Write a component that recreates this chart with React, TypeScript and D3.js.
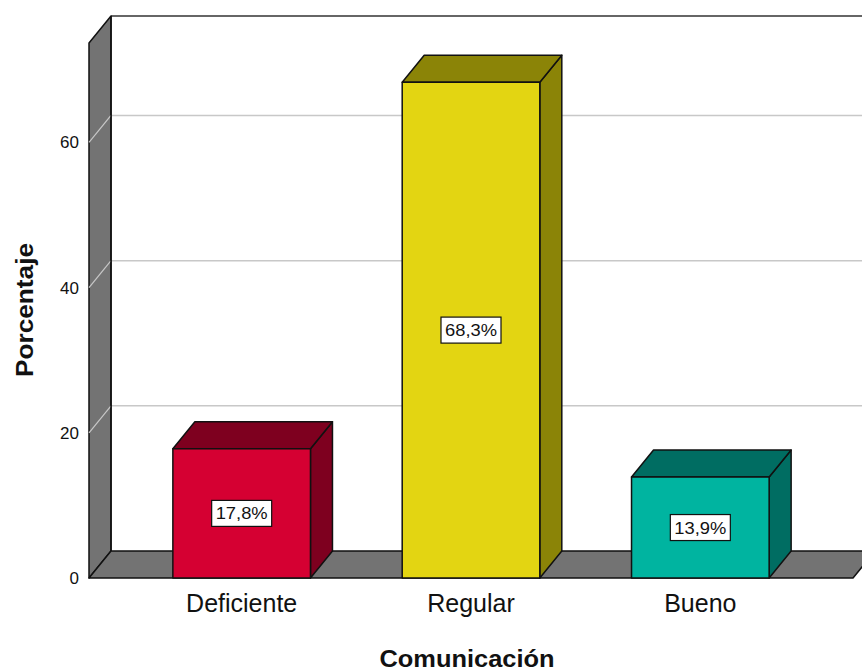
import React from "react";
import * as d3 from "d3";

const categories = ["Deficiente", "Regular", "Bueno"];
const values = [17.8, 68.3, 13.9];
const valueLabels = ["17,8%", "68,3%", "13,9%"];
const frontColors = ["#D50032", "#E3D512", "#00B4A0"];
const darkColors = ["#7E001F", "#8B8407", "#006D62"];
const yTicks = [0, 20, 40, 60];

const W = 862;
const H = 671;
const DX = 22;
const DY = -27;
const FONT = "'Liberation Sans', Arial, sans-serif";

export default function App() {
  const y = d3.scaleLinear().domain([0, 73.7]).range([578, 43]);
  const x = d3
    .scaleBand<string>()
    .domain(categories)
    .range([127, 815])
    .paddingInner(0.4)
    .paddingOuter(0.2);

  const x0 = 89;
  const xRight = 853;
  const y0 = y(0);
  const yTop = y(73.7);

  const pts = (p: number[][]) => p.map((q) => q.join(",")).join(" ");

  return (
    <svg
      width={W}
      height={H}
      style={{ position: "absolute", left: 0, top: 0, background: "#fff" }}
      fontFamily={FONT}
    >
      <rect x={0} y={0} width={W} height={H} fill="#fff" />
      {yTicks
        .filter((t) => t > 0)
        .map((t) => (
          <line
            key={"g" + t}
            x1={x0 + DX}
            x2={W + 20}
            y1={y(t) + DY}
            y2={y(t) + DY}
            stroke="#C8C8C8"
            strokeWidth={1.5}
          />
        ))}
      <line x1={x0 + DX} x2={W + 20} y1={yTop + DY} y2={yTop + DY} stroke="#333" strokeWidth={1.5} />
      <polygon
        points={pts([
          [x0, yTop],
          [x0 + DX, yTop + DY],
          [x0 + DX, y0 + DY],
          [x0, y0],
        ])}
        fill="#737373"
        stroke="#111"
        strokeWidth={1.5}
        strokeLinejoin="round"
      />
      {yTicks
        .filter((t) => t > 0)
        .map((t) => (
          <line
            key={"lw" + t}
            x1={x0}
            y1={y(t)}
            x2={x0 + DX}
            y2={y(t) + DY}
            stroke="#C8C8C8"
            strokeWidth={1.2}
          />
        ))}
      <polygon
        points={pts([
          [x0, y0],
          [x0 + DX, y0 + DY],
          [xRight + DX, y0 + DY],
          [xRight, y0],
        ])}
        fill="#737373"
        stroke="#111"
        strokeWidth={1.5}
        strokeLinejoin="round"
      />
      <line x1={x0 + DX} x2={x0 + DX} y1={yTop + DY} y2={y0 + DY} stroke="#111" strokeWidth={1.5} />
      {categories.map((c, i) => {
        const bx0 = x(c)!;
        const bx1 = bx0 + x.bandwidth();
        const by = y(values[i]);
        return (
          <g key={c} stroke="#111" strokeWidth={1.5} strokeLinejoin="round">
            <polygon
              points={pts([
                [bx1, by],
                [bx1 + DX, by + DY],
                [bx1 + DX, y0 + DY],
                [bx1, y0],
              ])}
              fill={darkColors[i]}
            />
            <polygon
              points={pts([
                [bx0, by],
                [bx0 + DX, by + DY],
                [bx1 + DX, by + DY],
                [bx1, by],
              ])}
              fill={darkColors[i]}
            />
            <rect x={bx0} y={by} width={bx1 - bx0} height={y0 - by} fill={frontColors[i]} />
          </g>
        );
      })}
      {categories.map((c, i) => {
        const cx = x(c)! + x.bandwidth() / 2;
        const cy = (y(values[i]) + y0) / 2;
        return (
          <g key={"l" + c}>
            <rect
              x={cx - 30}
              y={cy - 13}
              width={60}
              height={26}
              fill="#fff"
              stroke="#111"
              strokeWidth={1.2}
            />
            <text
              x={cx}
              y={cy + 6}
              textAnchor="middle"
              fontSize={16.5}
              textLength={52}
              lengthAdjust="spacingAndGlyphs"
              fill="#111"
            >
              {valueLabels[i]}
            </text>
          </g>
        );
      })}
      {yTicks.map((t) => (
        <text
          key={"t" + t}
          x={79}
          y={y(t) + 6}
          textAnchor="end"
          fontSize={17}
          fill="#111"
        >
          {String(t)}
        </text>
      ))}
      {categories.map((c) => (
        <text
          key={"c" + c}
          x={x(c)! + x.bandwidth() / 2}
          y={612}
          textAnchor="middle"
          fontSize={25}
          fill="#111"
        >
          {c}
        </text>
      ))}
      <text
        x={467}
        y={667}
        textAnchor="middle"
        fontSize={23}
        fontWeight="bold"
        textLength={175}
        lengthAdjust="spacingAndGlyphs"
        fill="#111"
      >
        Comunicación
      </text>
      <text
        transform="translate(33,310) rotate(-90)"
        textAnchor="middle"
        fontSize={23}
        fontWeight="bold"
        textLength={134}
        lengthAdjust="spacingAndGlyphs"
        fill="#111"
      >
        Porcentaje
      </text>
    </svg>
  );
}
